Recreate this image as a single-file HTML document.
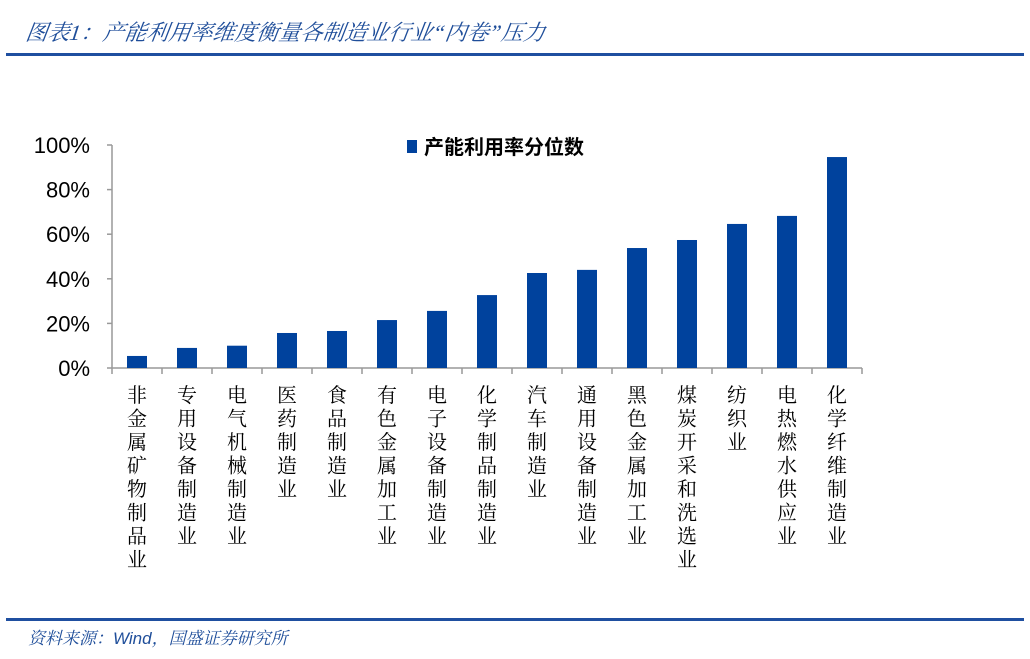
<!DOCTYPE html>
<html><head><meta charset="utf-8"><style>
body{margin:0;background:#fff;width:1030px;height:659px;overflow:hidden;position:relative;font-family:"Liberation Sans","Noto Sans CJK SC",sans-serif}
.title{position:absolute;left:26px;top:16px;font-size:22px;font-style:italic;color:#1f4e9a;font-family:"Liberation Serif","Noto Serif CJK SC",serif;transform:skewX(-8deg)}
.line{position:absolute;left:6px;width:1018px;height:3px;background:#1f4fa0}
.src{position:absolute;left:28px;top:624px;font-size:17px;font-style:italic;color:#1f4e9a;font-family:"Liberation Sans","Noto Serif CJK SC",serif}
</style></head><body>
<div class="title">图表1：产能利用率维度衡量各制造业行业“内卷”压力</div>
<div class="line" style="top:53px"></div>
<svg id="chart" width="1030" height="659" style="position:absolute;left:0;top:0"></svg>
<div class="line" style="top:618px"></div>
<div class="src">资料来源：Wind，国盛证券研究所</div>
<script>
const categories=["非金属矿物制品业","专用设备制造业","电气机械制造业","医药制造业","食品制造业","有色金属加工业","电子设备制造业","化学制品制造业","汽车制造业","通用设备制造业","黑色金属加工业","煤炭开采和洗选业","纺织业","电热燃水供应业","化学纤维制造业"];
const values=[5.4,9,10,15.7,16.6,21.5,25.6,32.7,42.6,44,53.8,57.4,64.6,68.2,94.6];
const yTicks=[0,20,40,60,80,100];
const NS="http://www.w3.org/2000/svg";
const svg=document.getElementById('chart');
const x0=112,y0=368,yTop=145,step=50,bw=20;
const y=v=>y0-(v/100)*(y0-yTop);
const xc=i=>x0+step*(i+0.5);
function mk(t,a){const e=document.createElementNS(NS,t);for(const k in a)e.setAttribute(k,a[k]);svg.appendChild(e);return e;}
let e=mk('line',{x1:x0,y1:yTop,x2:x0,y2:y0,stroke:'#999','stroke-width':1.5});


e=mk('line',{x1:x0,y1:y0,x2:x0+step*categories.length,y2:y0,stroke:'#999','stroke-width':1.5});


yTicks.forEach(t=>{
 mk('line',{x1:x0-5,y1:y(t),x2:x0,y2:y(t),stroke:'#999','stroke-width':1.5});
 const tx=mk('text',{x:90,y:y(t)+8,'text-anchor':'end','font-size':22,fill:'#000','font-family':'Liberation Sans, sans-serif'});
 tx.textContent=t+'%';
 
 
});
for(let i=0;i<=categories.length;i++)mk('line',{x1:x0+step*i,y1:y0,x2:x0+step*i,y2:y0+6,stroke:'#999','stroke-width':1.5});
categories.forEach((c,i)=>{
 const r=mk('rect',{x:xc(i)-bw/2,y:y(values[i]),width:bw,height:y0-y(values[i]),fill:'#00429d'});
 
 
 const t=mk('text',{'font-size':20,fill:'#000','text-anchor':'middle','font-family':'Noto Serif CJK SC, serif'});
 
 
 [...c].forEach((ch,k)=>{const s=document.createElementNS(NS,'tspan');s.setAttribute('x',xc(i));s.setAttribute('y',402+k*23.5);s.textContent=ch;t.appendChild(s);});
});
e=mk('rect',{x:407,y:140,width:10,height:13,fill:'#00429d'});


e=mk('text',{x:424,y:154,'font-size':20,'font-weight':'bold',fill:'#000','font-family':'Noto Sans CJK SC, sans-serif'});
e.textContent='产能利用率分位数';


</script>
</body></html>
